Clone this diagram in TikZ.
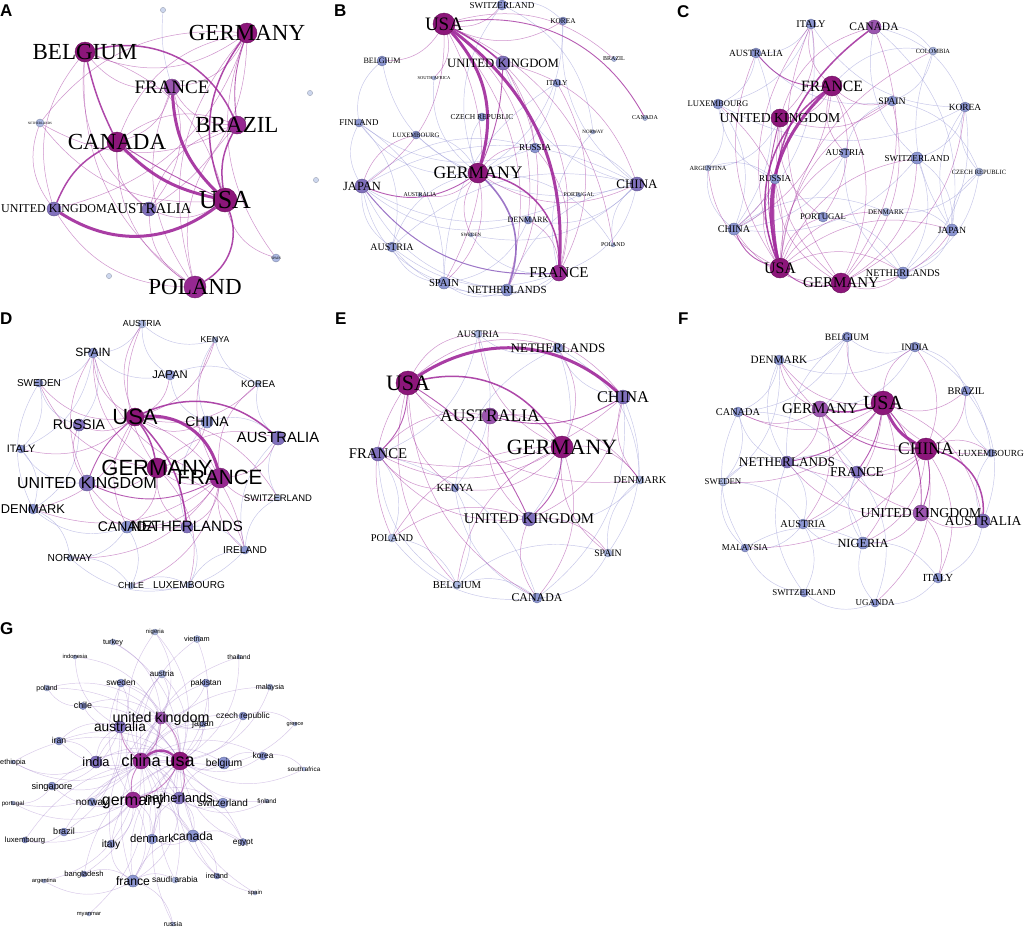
\documentclass[tikz,border=0pt]{standalone}
\usepackage{fontspec}
\newfontfamily\serifL{Liberation Serif}
\newfontfamily\sansL{Liberation Sans}
\newfontfamily\sansB{Liberation Sans Bold}
\definecolor{dm}{RGB}{140,22,122}
\definecolor{mg}{RGB}{150,40,145}
\definecolor{pu}{RGB}{155,85,175}
\definecolor{pb}{RGB}{128,112,188}
\definecolor{lb}{RGB}{140,150,210}
\definecolor{pl}{RGB}{172,184,226}
\definecolor{tn}{RGB}{205,215,238}
\definecolor{em}{RGB}{160,40,155}
\definecolor{ep}{RGB}{140,95,190}
\definecolor{eb}{RGB}{150,150,215}
\definecolor{eg}{RGB}{150,110,195}
\pgfdeclarelayer{bg}
\pgfdeclarelayer{edges}
\pgfdeclarelayer{labels}
\pgfsetlayers{bg,edges,main,labels}
\newcommand\lblfam{\serifL}
\newcommand\nd[7]{%
  \node[ndc, fill=#5, draw=#5!75!black, minimum size=#4*2] (#1) at (#2,-#3) {};
  \begin{pgfonlayer}{labels}
  \node[lbl, font=\lblfam\fontsize{#6}{#6}\selectfont] (#1-l) at (#2,{-#3-0.33*#6}) {#7};
  \end{pgfonlayer}}
\tikzset{
 ndc/.style={circle,inner sep=0pt,line width=.4pt},
 lbl/.style={anchor=base,inner sep=0pt,text=black},
 thk/.style={draw=em,line width=3pt,opacity=.9},
 mdm/.style={draw=em,line width=1.5pt,opacity=.85},
 lmd/.style={draw=em,line width=.9pt,opacity=.75},
 mdp/.style={draw=ep,line width=1.6pt,opacity=.85},
 thn/.style={draw=em,line width=.5pt,opacity=.5},
 blu/.style={draw=eb,line width=.45pt,opacity=.55},
 gth/.style={draw=eg,line width=.45pt,opacity=.38},
 plab/.style={anchor=north west,inner sep=0pt,font=\sansB\fontsize{17}{17}\selectfont},
}
\begin{document}
\begin{tikzpicture}[x=1pt,y=1pt]
\begin{pgfonlayer}{bg}
\fill[white] (0,0) rectangle (1024,-927);
\end{pgfonlayer}
\useasboundingbox (0,0) rectangle (1024,-927);

% panel letters
\node[plab] (labA) at (0,-5) {A};
\node[plab] (labB) at (334,-5) {B};
\node[plab] (labC) at (677,-5) {C};
\node[plab] (labD) at (0,-313) {D};
\node[plab] (labE) at (335,-313) {E};
\node[plab] (labF) at (678,-313) {F};
\node[plab] (labG) at (0,-622) {G};

% ================= A =================
\nd{aGER}{247}{33}{10}{dm}{23}{GERMANY}
\nd{aBEL}{85}{52}{10}{dm}{23}{BELGIUM}
\nd{aFRA}{172}{87}{8}{pu}{19}{FRANCE}
\nd{aBRA}{237}{125}{9}{mg}{23}{BRAZIL}
\nd{aCAN}{117}{142}{10}{dm}{23}{CANADA}
\nd{aUSA}{225}{200}{12}{dm}{26}{USA}
\nd{aUK}{54}{209}{7}{pb}{12}{UNITED KINGDOM}
\nd{aAUS}{149}{209}{7}{pb}{15}{AUSTRALIA}
\nd{aPOL}{195}{287}{11}{mg}{23}{POLAND}
\nd{aNET}{40}{123}{4}{pl}{3.3}{NETHERLANDS}
\nd{aSPA}{276}{258}{4}{pl}{3.5}{SPAIN}
\nd{aT1}{163}{10}{2.6}{tn}{3}{}
\nd{aT2}{310}{93}{2.6}{tn}{3}{}
\nd{aT3}{316}{180}{2.6}{tn}{3}{}
\nd{aT4}{109}{276}{2.6}{tn}{3}{}
\begin{pgfonlayer}{edges}
\foreach \a/\b in {aBEL/aGER,aBEL/aFRA,aUSA/aBEL,aBEL/aUK,aBEL/aPOL,aBEL/aAUS,aGER/aCAN,aGER/aNET,aGER/aPOL,aAUS/aGER,aFRA/aGER,aFRA/aPOL,aAUS/aFRA,aFRA/aBRA,aCAN/aFRA,aBRA/aCAN,aBRA/aAUS,aBRA/aPOL,aCAN/aAUS,aCAN/aPOL,aUK/aPOL,aNET/aUK,aAUS/aPOL,aAUS/aUSA,aUSA/aSPA,aNET/aUSA,aGER/aSPA,aNET/aBRA,aUK/aGER}
  \draw[thn] (\a) to[bend right=28] (\b);
\draw[blu] (aT1) to[bend right=10] (aFRA);
\draw[lmd] (aGER) to[bend right=12] (aBRA);
\draw[thk] (aCAN) to[bend right=16] (aUSA);
\draw[lmd] (aCAN) to[bend right=4] (aUSA);
\draw[thk] (aFRA) to[bend right=21] (aUSA);
\draw[thk] (aUK) to[bend right=35] (aUSA);
\draw[mdm] (aBEL) to[bend right=6] (aCAN);
\draw[mdm] (aBRA) to[bend right=40] (aBEL);
\draw[mdm] (aGER) to[bend right=28] (aUSA);
\draw[mdm] (aBRA) to[bend right=18] (aUSA);
\draw[mdm] (aPOL) to[bend right=40] (aUSA);
\draw[mdm] (aCAN) to[bend right=20] (aUK);
\end{pgfonlayer}

% ================= B =================
\nd{bUSA}{444}{24}{11}{dm}{19}{USA}
\nd{bSWI}{502}{5}{5}{lb}{9.1}{SWITZERLAND}
\nd{bKOR}{563}{21}{4}{lb}{7.3}{KOREA}
\nd{bBEL}{382}{61}{5}{lb}{8.1}{BELGIUM}
\nd{bUK}{503}{63}{7}{pb}{12.7}{UNITED KINGDOM}
\nd{bBRA}{614}{59}{2.5}{pl}{6}{BRAZIL}
\nd{bSAF}{434}{78}{2}{pl}{4.5}{SOUTH AFRICA}
\nd{bITA}{557}{83}{4}{lb}{7.5}{ITALY}
\nd{bCAN}{645}{118}{2.5}{pl}{6}{CANADA}
\nd{bFIN}{359}{123}{4}{lb}{8.9}{FINLAND}
\nd{bCZE}{482}{117}{4}{lb}{7.5}{CZECH REPUBLIC}
\nd{bLUX}{416}{135}{4}{lb}{6.6}{LUXEMBOURG}
\nd{bNOR}{593}{132}{2}{pl}{5}{NORWAY}
\nd{bRUS}{535}{148}{5}{lb}{9}{RUSSIA}
\nd{bGER}{478}{173}{10}{dm}{17.6}{GERMANY}
\nd{bJAP}{362}{186}{7}{pb}{12.5}{JAPAN}
\nd{bAUS}{420}{195}{2}{pl}{5.8}{AUSTRALIA}
\nd{bCHI}{637}{184}{7}{pb}{13}{CHINA}
\nd{bPOR}{579}{195}{2}{pl}{5.8}{PORTUGAL}
\nd{bDEN}{528}{220}{4}{lb}{8.1}{DENMARK}
\nd{bSWE}{471}{235}{2}{pl}{4.9}{SWEDEN}
\nd{bAUT}{392}{247}{5}{lb}{10}{AUSTRIA}
\nd{bPOL}{613}{245}{2}{pl}{5.9}{POLAND}
\nd{bFRA}{559}{273}{8}{mg}{15}{FRANCE}
\nd{bSPA}{444}{283}{6}{lb}{10.7}{SPAIN}
\nd{bNET}{507}{290}{6}{lb}{10.9}{NETHERLANDS}
\begin{pgfonlayer}{edges}
\foreach \a/\b in {bFIN/bJAP,bAUT/bFIN,bFIN/bGER,bSPA/bFIN,bJAP/bAUT,bJAP/bSPA,bJAP/bNET,bCHI/bJAP,bAUT/bSPA,bAUT/bNET,bAUT/bFRA,bGER/bAUT,bSPA/bNET,bSPA/bFRA,bNET/bFRA,bFRA/bCHI,bCHI/bNET,bDEN/bCHI,bCHI/bRUS,bUK/bCHI,bSWE/bCHI,bCHI/bAUT,bRUS/bJAP,bFIN/bRUS,bSPA/bDEN,bJAP/bDEN,bSWE/bFRA,bSWI/bGER,bKOR/bSWI,bGER/bKOR,bGER/bITA,bITA/bSPA,bCZE/bGER,bGER/bLUX,bLUX/bCHI,bSAF/bGER,bNOR/bFRA,bJAP/bPOR,bPOL/bGER,bBEL/bGER,bBEL/bFIN,bCHI/bPOL,bKOR/bCHI,bNOR/bSWI}
  \draw[blu] (\a) to[bend right=28] (\b);
\foreach \a/\b in {bBEL/bUSA,bUSA/bSWI,bUSA/bKOR,bNET/bUSA,bSPA/bUSA,bDEN/bUSA,bRUS/bUSA,bSPA/bGER,bGER/bCHI,bRUS/bGER,bFRA/bUK,bNET/bUK,bCHI/bUK,bFRA/bRUS,bFRA/bDEN,bFRA/bITA,bPOL/bUSA,bBRA/bUSA,bSAF/bUSA,bJAP/bUSA,bLUX/bJAP,bGER/bSWE,bAUS/bGER}
  \draw[thn] (\a) to[bend right=28] (\b);
\draw[thk] (bGER) to[bend right=29] (bUSA);
\draw[thk] (bFRA) to[bend right=28] (bUSA);
\draw[mdm] (bUK) to[bend right=6] (bUSA);
\draw[lmd] (bGER) to[bend right=10] (bUK);
\draw[mdp] (bNET) to[bend right=33] (bGER);
\draw[mdm] (bFRA) to[bend right=40] (bGER);
\draw[lmd] (bCAN) to[bend right=35] (bUSA);
\draw[mdp,line width=1pt] (bJAP) to[bend right=27] (bFRA);
\draw[lmd] (bJAP) to[bend right=27] (bGER);
\end{pgfonlayer}

% ================= C =================
\nd{cITA}{811}{24}{5}{lb}{10.3}{ITALY}
\nd{cCAN}{874}{27}{7}{pu}{11.5}{CANADA}
\nd{cAUS}{756}{53}{5}{lb}{9.5}{AUSTRALIA}
\nd{cCOL}{933}{51}{4}{pl}{6.4}{COLOMBIA}
\nd{cFRA}{832}{86}{10}{dm}{15.7}{FRANCE}
\nd{cLUX}{718}{104}{5}{lb}{8.6}{LUXEMBOURG}
\nd{cSPA}{892}{101}{5}{lb}{9.8}{SPAIN}
\nd{cKOR}{965}{107}{5}{lb}{9.4}{KOREA}
\nd{cUK}{780}{118}{9}{dm}{13.7}{UNITED KINGDOM}
\nd{cAUT}{845}{153}{5}{lb}{9}{AUSTRIA}
\nd{cSWI}{917}{158}{6}{lb}{9.1}{SWITZERLAND}
\nd{cARG}{708}{168}{3}{pl}{6.3}{ARGENTINA}
\nd{cCZE}{979}{172}{4}{pl}{6.5}{CZECH REPUBLIC}
\nd{cRUS}{775}{179}{5}{lb}{9}{RUSSIA}
\nd{cPOR}{823}{217}{5}{lb}{8.7}{PORTUGAL}
\nd{cDEN}{886}{212}{4}{pl}{7.1}{DENMARK}
\nd{cCHI}{734}{229}{6}{lb}{10.2}{CHINA}
\nd{cJAP}{952}{230}{6}{lb}{9.4}{JAPAN}
\nd{cUSA}{780}{268}{10}{dm}{16}{USA}
\nd{cGER}{841}{283}{10}{dm}{15}{GERMANY}
\nd{cNET}{903}{273}{6}{lb}{10.2}{NETHERLANDS}
\begin{pgfonlayer}{edges}
\foreach \a/\b in {cAUS/cITA,cITA/cKOR,cLUX/cITA,cCHI/cITA,cKOR/cCAN,cCOL/cCAN,cCAN/cSWI,cJAP/cCAN,cSPA/cCOL,cCOL/cJAP,cCHI/cLUX,cLUX/cRUS,cARG/cLUX,cSWI/cKOR,cKOR/cJAP,cNET/cKOR,cKOR/cCZE,cNET/cSWI,cJAP/cSWI,cCHI/cSWI,cARG/cCHI,cRUS/cARG,cCZE/cJAP,cNET/cCZE,cDEN/cCZE,cCHI/cRUS,cNET/cPOR,cDEN/cCHI,cJAP/cDEN,cNET/cJAP,cSPA/cAUT,cCHI/cAUT,cAUT/cNET,cCHI/cAUS,cLUX/cAUS,cAUS/cSPA,cARG/cUK,cCOL/cFRA,cCZE/cSPA,cLUX/cKOR}
  \draw[blu] (\a) to[bend right=28] (\b);
\foreach \a/\b in {cITA/cUSA,cSPA/cUSA,cAUT/cUSA,cSWI/cUSA,cJAP/cUSA,cNET/cUSA,cPOR/cUSA,cDEN/cUSA,cUSA/cLUX,cRUS/cUSA,cGER/cFRA,cUK/cGER,cGER/cCAN,cITA/cGER,cGER/cSPA,cGER/cKOR,cCHI/cGER,cRUS/cGER,cGER/cNET,cGER/cJAP,cGER/cSWI,cITA/cFRA,cFRA/cSPA,cUK/cFRA,cFRA/cAUT,cPOR/cFRA,cCHI/cFRA,cUK/cITA,cCAN/cUK,cUK/cSPA,cCHI/cUK,cUK/cPOR,cARG/cUSA,cAUS/cUSA,cCOL/cUSA}
  \draw[thn] (\a) to[bend right=28] (\b);
\draw[thk] (cFRA) to[bend right=30] (cUSA);
\draw[mdm] (cFRA) to[bend right=38] (cUSA);
\draw[mdm] (cCAN) to[bend right=32] (cUSA);
\draw[lmd] (cUK) to[bend right=14] (cUSA);
\draw[lmd] (cCHI) to[bend right=25] (cUSA);
\draw[lmd] (cUSA) to[bend right=25] (cGER);
\draw[lmd] (cAUS) to[bend right=25] (cFRA);
\end{pgfonlayer}

% ================= E =================
\nd{eAUT}{478}{334}{4}{pl}{9.8}{AUSTRIA}
\nd{eNET}{558}{348}{5}{lb}{13}{NETHERLANDS}
\nd{eUSA}{408}{383}{12}{dm}{22}{USA}
\nd{eCHI}{623}{397}{7}{pb}{16.4}{CHINA}
\nd{eAUS}{490}{416}{8}{pu}{17.6}{AUSTRALIA}
\nd{eGER}{562}{447}{11}{dm}{21.8}{GERMANY}
\nd{eFRA}{378}{454}{7}{pb}{14.8}{FRANCE}
\nd{eDEN}{640}{480}{4}{pl}{10.4}{DENMARK}
\nd{eKEN}{455}{488}{4}{lb}{10.8}{KENYA}
\nd{eUK}{529}{519}{7}{pb}{14.8}{UNITED KINGDOM}
\nd{ePOL}{392}{538}{4}{pl}{10.4}{POLAND}
\nd{eSPA}{608}{553}{4}{pl}{9.8}{SPAIN}
\nd{eBEL}{457}{585}{4}{pl}{10.6}{BELGIUM}
\nd{eCAN}{537}{598}{5}{lb}{11.9}{CANADA}
\begin{pgfonlayer}{edges}
\foreach \a/\b in {eAUT/eNET,eFRA/eAUT,eNET/eCHI,eDEN/eNET,eUK/eNET,eSPA/eCHI,eCAN/eCHI,eDEN/eSPA,eCAN/eSPA,eCAN/eBEL,eBEL/ePOL,ePOL/eFRA,eBEL/eKEN,eKEN/eCAN,eFRA/eBEL,eNET/eKEN,eKEN/eAUT,eUK/eDEN,eCAN/eFRA,ePOL/eCAN,eSPA/eBEL}
  \draw[blu] (\a) to[bend right=28] (\b);
\foreach \a/\b in {eAUT/eUSA,eNET/eUSA,eUSA/eKEN,eUSA/ePOL,eUSA/eBEL,eUSA/eCAN,eFRA/eGER,eGER/eAUS,eGER/eNET,eDEN/eGER,eGER/eSPA,eCAN/eGER,eKEN/eGER,eGER/ePOL,eGER/eBEL,eFRA/eCHI,eCHI/eDEN,eUK/eCHI,eAUS/eUK,eDEN/eAUS,eAUS/eFRA,eFRA/eKEN,eFRA/eUK,eSPA/eUK,eUK/eCAN,eUK/ePOL,eCHI/eAUT,eAUT/eGER,eUSA/eAUS,eUSA/eDEN}
  \draw[thn] (\a) to[bend right=28] (\b);
\draw[thk] (eCHI) to[bend right=38] (eUSA);
\draw[mdm] (eGER) to[bend right=36] (eUSA);
\draw[lmd] (eFRA) to[bend right=20] (eUSA);
\draw[lmd] (eUK) to[bend right=16] (eUSA);
\draw[lmd] (eUK) to[bend right=22] (eGER);
\draw[lmd] (eAUS) to[bend right=22] (eCHI);
\end{pgfonlayer}

% ================= F =================
\nd{fBEL}{847}{337}{5}{lb}{9.7}{BELGIUM}
\nd{fIND}{915}{347}{5}{lb}{9.7}{INDIA}
\nd{fDEN}{779}{360}{5}{lb}{11.2}{DENMARK}
\nd{fBRA}{966}{391}{5}{lb}{10.2}{BRAZIL}
\nd{fUSA}{883}{403}{12}{dm}{20}{USA}
\nd{fGER}{820}{409}{8}{pu}{15}{GERMANY}
\nd{fCAN}{738}{412}{5}{lb}{10.3}{CANADA}
\nd{fCHI}{926}{449}{11}{dm}{17.6}{CHINA}
\nd{fLUX}{991}{453}{4}{lb}{9.3}{LUXEMBOURG}
\nd{fNET}{787}{462}{6}{pb}{13.2}{NETHERLANDS}
\nd{fFRA}{857}{472}{6}{pb}{13.6}{FRANCE}
\nd{fSWE}{723}{482}{4}{pl}{8.8}{SWEDEN}
\nd{fUK}{921}{513}{8}{pu}{13.7}{UNITED KINGDOM}
\nd{fAUS}{983}{521}{7}{pb}{13.5}{AUSTRALIA}
\nd{fAUT}{803}{524}{5}{lb}{10.4}{AUSTRIA}
\nd{fNIG}{863}{543}{6}{lb}{12.4}{NIGERIA}
\nd{fMAL}{745}{548}{4}{lb}{8.9}{MALAYSIA}
\nd{fITA}{938}{578}{5}{lb}{10.8}{ITALY}
\nd{fSWI}{804}{593}{4}{lb}{8.9}{SWITZERLAND}
\nd{fUGA}{875}{603}{4}{lb}{9}{UGANDA}
\begin{pgfonlayer}{edges}
\foreach \a/\b in {fDEN/fBEL,fBEL/fIND,fGER/fBEL,fBEL/fNET,fBRA/fIND,fGER/fIND,fCAN/fDEN,fDEN/fNET,fSWE/fCAN,fCAN/fNET,fFRA/fCAN,fNET/fSWE,fSWE/fMAL,fAUT/fSWE,fMAL/fSWI,fNIG/fMAL,fSWI/fUGA,fNET/fSWI,fUGA/fITA,fNIG/fUGA,fITA/fAUS,fLUX/fAUS,fBRA/fLUX,fAUT/fNIG,fFRA/fNIG,fAUT/fNET,fNIG/fNET,fAUT/fFRA,fUGA/fFRA,fFRA/fNET,fAUS/fBRA,fSWE/fDEN,fCAN/fBEL,fLUX/fIND,fMAL/fAUT,fSWI/fAUT,fITA/fNIG,fCAN/fMAL,fDEN/fIND}
  \draw[blu] (\a) to[bend right=28] (\b);
\foreach \a/\b in {fBEL/fUSA,fIND/fUSA,fUSA/fBRA,fDEN/fUSA,fAUS/fUSA,fNIG/fUSA,fUSA/fLUX,fCAN/fUSA,fAUT/fUSA,fNET/fCHI,fFRA/fCHI,fNIG/fCHI,fITA/fCHI,fCHI/fIND,fCHI/fBRA,fLUX/fCHI,fDEN/fCHI,fUGA/fCHI,fNET/fGER,fDEN/fGER,fGER/fUK,fAUT/fGER,fCAN/fGER,fNIG/fUK,fUK/fAUS,fNET/fUK,fITA/fUK,fSWE/fUSA,fMAL/fCHI}
  \draw[thn] (\a) to[bend right=28] (\b);
\draw[thk] (fUSA) to[bend right=18] (fCHI);
\draw[mdm] (fGER) to[bend right=14] (fUSA);
\draw[lmd] (fGER) to[bend right=25] (fCHI);
\draw[mdm] (fAUS) to[bend right=40] (fCHI);
\draw[lmd] (fFRA) to[bend right=12] (fUSA);
\draw[lmd] (fNET) to[bend right=20] (fUSA);
\draw[lmd] (fUK) to[bend right=20] (fUSA);
\draw[lmd] (fUK) to[bend right=15] (fCHI);
\end{pgfonlayer}

% ================= D (sans) =================
\renewcommand\lblfam{\sansL}
\nd{dAUT}{142}{324}{4}{pl}{8.8}{AUSTRIA}
\nd{dKEN}{215}{340}{3}{pl}{8.6}{KENYA}
\nd{dSPA}{93}{353}{5}{lb}{12}{SPAIN}
\nd{dJAP}{170}{375}{5}{lb}{11.2}{JAPAN}
\nd{dSWE}{39}{383}{4}{lb}{10}{SWEDEN}
\nd{dKOR}{258}{384}{3}{pl}{9.7}{KOREA}
\nd{dUSA}{135}{417}{9}{dm}{22}{USA}
\nd{dRUS}{79}{425}{6}{pb}{14}{RUSSIA}
\nd{dCHI}{207}{422}{6}{lb}{13.9}{CHINA}
\nd{dAUS}{278}{438}{7}{pb}{14.8}{AUSTRALIA}
\nd{dITA}{21}{449}{4}{lb}{10.8}{ITALY}
\nd{dGER}{157}{468}{10}{dm}{22}{GERMANY}
\nd{dFRA}{220}{478}{10}{mg}{20.7}{FRANCE}
\nd{dUK}{87}{483}{8}{pb}{15.9}{UNITED KINGDOM}
\nd{dSWI}{278}{498}{3}{pl}{9.5}{SWITZERLAND}
\nd{dDEN}{33}{509}{5}{lb}{12.8}{DENMARK}
\nd{dCAN}{127}{527}{6}{lb}{14}{CANADA}
\nd{dNET}{187}{527}{6}{pb}{15}{NETHERLANDS}
\nd{dIRE}{245}{550}{4}{lb}{10.1}{IRELAND}
\nd{dNOR}{70}{558}{3}{pl}{10.2}{NORWAY}
\nd{dCHL}{131}{586}{3}{pl}{8.8}{CHILE}
\nd{dLUX}{189}{585}{3}{pl}{10.1}{LUXEMBOURG}
\begin{pgfonlayer}{edges}
\foreach \a/\b in {dSWE/dSPA,dSPA/dJAP,dRUS/dSPA,dITA/dSPA,dITA/dSWE,dSWE/dRUS,dDEN/dITA,dITA/dUK,dNOR/dDEN,dDEN/dCAN,dCHL/dNOR,dLUX/dCHL,dIRE/dLUX,dSWI/dIRE,dAUS/dSWI,dKOR/dAUS,dKEN/dKOR,dAUT/dKEN,dSPA/dAUT,dJAP/dCHI,dKOR/dJAP,dAUS/dCHI,dCHI/dNET,dIRE/dNET,dLUX/dNET,dNOR/dCAN,dCHL/dCAN,dDEN/dRUS,dAUT/dJAP,dSWE/dDEN,dKEN/dCHI,dCHL/dIRE,dNOR/dLUX,dAUS/dIRE}
  \draw[blu] (\a) to[bend right=28] (\b);
\foreach \a/\b in {dSPA/dUSA,dAUT/dUSA,dUSA/dJAP,dUSA/dKEN,dSWE/dUSA,dRUS/dUSA,dITA/dUSA,dUSA/dCHI,dIRE/dUSA,dSWI/dUSA,dDEN/dUSA,dSPA/dGER,dAUT/dGER,dGER/dCHI,dAUS/dGER,dGER/dNET,dCAN/dGER,dUK/dGER,dSWE/dGER,dIRE/dGER,dLUX/dGER,dSPA/dFRA,dKEN/dFRA,dFRA/dAUS,dNET/dFRA,dCAN/dFRA,dFRA/dIRE,dFRA/dSWI,dCHL/dFRA,dNOR/dFRA,dDEN/dFRA,dKOR/dFRA,dSPA/dUK,dRUS/dUK,dUK/dNET,dUK/dCAN,dUSA/dCAN,dGER/dFRA,dUSA/dKOR}
  \draw[thn] (\a) to[bend right=28] (\b);
\draw[thk] (dFRA) to[bend right=40] (dUSA);
\draw[mdm] (dGER) to[bend right=12] (dUSA);
\draw[mdm] (dAUS) to[bend right=33] (dUSA);
\draw[mdm] (dNET) to[bend right=18] (dUSA);
\draw[lmd] (dUSA) to[bend right=14] (dUK);
\draw[lmd] (dUK) to[bend right=25] (dFRA);
\end{pgfonlayer}

% ================= G (sans) =================
\nd{gNIG}{155}{632}{3}{pl}{6}{nigeria}
\nd{gTUR}{113}{642}{3}{pl}{7.3}{turkey}
\nd{gVIE}{197}{639}{3.5}{pl}{7.3}{vietnam}
\nd{gIDN}{75}{657}{2}{pl}{5.8}{indonesia}
\nd{gTHA}{239}{657}{2}{pl}{6.6}{thailand}
\nd{gAUT}{162}{674}{4}{pl}{8}{austria}
\nd{gSWE}{121}{683}{4}{lb}{8.5}{sweden}
\nd{gPAK}{206}{683}{4}{lb}{8.3}{pakistan}
\nd{gPOL}{47}{688}{3}{pl}{7.1}{poland}
\nd{gMAL}{270}{687}{3}{pl}{7.2}{malaysia}
\nd{gCHL}{83}{706}{3.5}{lb}{8.9}{chile}
\nd{gUK}{161}{718}{6}{pu}{14.3}{united kingdom}
\nd{gCZE}{243}{716}{4}{lb}{8.4}{czech republic}
\nd{gAUS}{120}{727}{6}{pb}{13.7}{australia}
\nd{gJAP}{203}{724}{3}{lb}{8.9}{japan}
\nd{gGRE}{295}{724}{2}{pl}{5.5}{greece}
\nd{gIRN}{59}{741}{4}{lb}{8.6}{iran}
\nd{gIND}{96}{762}{6}{pb}{12.8}{india}
\nd{gCHN}{141}{761}{8}{mg}{16.5}{china}
\nd{gUSA}{180}{761}{9}{dm}{18}{usa}
\nd{gBEL}{224}{763}{6}{lb}{10.4}{belgium}
\nd{gKOR}{263}{756}{4}{lb}{8.3}{korea}
\nd{gETH}{13}{762}{2}{pl}{7.3}{ethiopia}
\nd{gSAF}{304}{769}{2}{pl}{6.3}{south africa}
\nd{gSIN}{52}{786}{4}{lb}{9.3}{singapore}
\nd{gPOR}{13}{803}{2}{pl}{6.2}{portugal}
\nd{gNOR}{92}{802}{4}{lb}{10}{norway}
\nd{gGER}{133}{800}{8}{mg}{16}{germany}
\nd{gNET}{179}{798}{6}{pb}{13}{netherlands}
\nd{gSWI}{223}{803}{5}{lb}{10}{switzerland}
\nd{gFIN}{267}{801}{2}{pl}{6.5}{finland}
\nd{gBRA}{64}{832}{4}{lb}{9}{brazil}
\nd{gLUX}{25}{840}{3}{lb}{7.7}{luxembourg}
\nd{gITA}{111}{844}{4}{lb}{10.3}{italy}
\nd{gDEN}{152}{839}{5}{lb}{11.3}{denmark}
\nd{gCAN}{193}{836}{6}{lb}{12.1}{canada}
\nd{gEGY}{243}{842}{3.5}{lb}{8.2}{egypt}
\nd{gBGD}{84}{874}{3}{lb}{7.6}{bangladesh}
\nd{gARG}{44}{881}{2}{pl}{5.8}{argentina}
\nd{gFRA}{133}{881}{6}{lb}{12.2}{france}
\nd{gSAU}{175}{880}{3}{pl}{8.4}{saudi arabia}
\nd{gIRE}{217}{876}{3}{lb}{7.4}{ireland}
\nd{gSPA}{255}{893}{2}{pl}{6}{spain}
\nd{gMYA}{89}{914}{2}{pl}{5.8}{myanmar}
\nd{gRUS}{173}{924}{2}{pl}{6.9}{russia}
\begin{pgfonlayer}{edges}
\foreach \b in {gUK,gAUS,gIND,gBEL,gKOR,gCAN,gDEN,gITA,gFRA,gSWI,gNOR,gSIN,gBRA,gJAP,gCZE,gPAK,gSWE,gAUT,gVIE,gTHA,gMAL,gIRN,gCHL,gEGY,gSAU,gIRE,gSAF,gGRE,gFIN,gNIG,gTUR,gPOL,gETH,gLUX,gBGD,gSPA,gRUS}
  \draw[gth] (gUSA) to[bend right=28] (\b);
\foreach \b in {gIND,gPAK,gVIE,gTHA,gMAL,gSIN,gKOR,gJAP,gCAN,gDEN,gFRA,gNET,gBEL,gSWE,gAUT,gIRN,gEGY,gSAU,gBGD,gMYA,gNIG,gETH,gPOR,gCZE}
  \draw[gth] (\b) to[bend right=28] (gCHN);
\foreach \b in {gAUS,gNET,gSWE,gAUT,gIND,gCAN,gFRA,gITA,gNIG,gPAK,gCHL,gPOL,gIDN,gTUR,gJAP,gCZE}
  \draw[gth] (gUK) to[bend right=28] (\b);
\foreach \b in {gNET,gFRA,gITA,gDEN,gSWI,gAUT,gNOR,gBRA,gLUX,gPOR,gARG,gSWE,gCAN,gSIN}
  \draw[gth] (\b) to[bend right=28] (gGER);
\foreach \a/\b in {gAUS/gIND,gCHL/gAUS,gAUS/gIRN,gSIN/gAUS,gNOR/gAUS,gBRA/gAUS,gAUS/gSWE,gIDN/gAUS,gNET/gDEN,gBEL/gNET,gNET/gSWI,gCAN/gNET,gFRA/gNET,gNET/gFIN,gEGY/gNET,gDEN/gCAN,gCAN/gFRA,gIRE/gCAN,gCAN/gSPA,gEGY/gCAN,gITA/gFRA,gFRA/gBGD,gRUS/gFRA,gARG/gFRA,gSAU/gFRA,gKOR/gBEL,gGRE/gCZE,gSAF/gKOR,gPOL/gCHL,gIND/gIRN,gETH/gIND,gLUX/gBRA,gPOR/gSIN}
  \draw[gth] (\a) to[bend right=28] (\b);
\draw[mdm,line width=2.4pt] (gUSA) to[bend right=40] (gCHN);
\draw[lmd,opacity=.55] (gGER) to[bend right=20] (gUSA);
\draw[lmd,opacity=.55] (gNET) to[bend right=20] (gUSA);
\draw[lmd,opacity=.55] (gCHN) to[bend right=20] (gGER);
\draw[lmd,opacity=.5] (gUSA) to[bend right=20] (gUK);
\draw[lmd,opacity=.5] (gAUS) to[bend right=20] (gCHN);
\draw[lmd,opacity=.5] (gCHN) to[bend right=20] (gUK);
\end{pgfonlayer}
\end{tikzpicture}
\end{document}
